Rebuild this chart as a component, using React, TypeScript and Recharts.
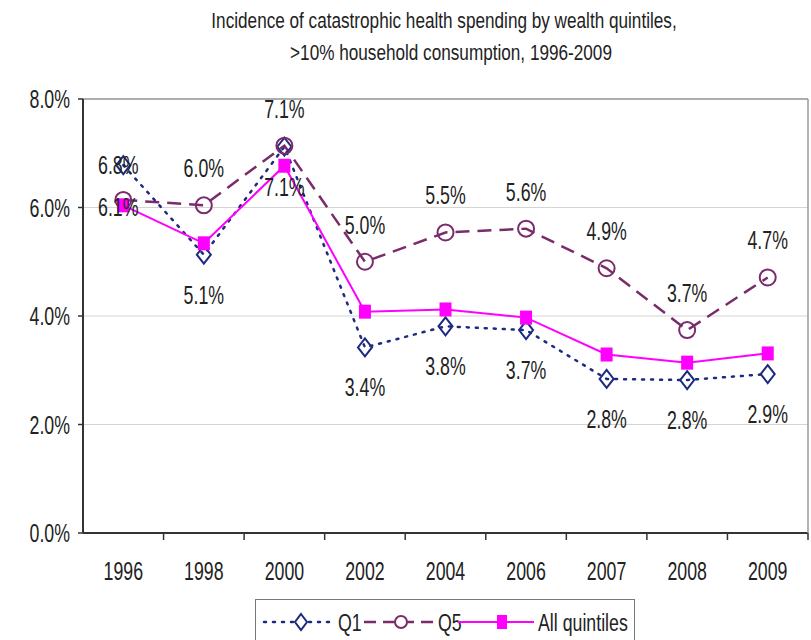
import { CartesianGrid, LabelList, Line, LineChart, ReferenceLine, XAxis, YAxis } from "recharts"

const years = ["1996", "1998", "2000", "2002", "2004", "2006", "2007", "2008", "2009"]
const q1 = [6.78, 5.13, 7.12, 3.42, 3.81, 3.74, 2.84, 2.82, 2.93]
const q5 = [6.14, 6.04, 7.14, 5.0, 5.54, 5.61, 4.88, 3.74, 4.71]
const allQuintiles = [6.04, 5.34, 6.77, 4.08, 4.12, 3.97, 3.29, 3.14, 3.31]
const yTicks = [0, 2, 4, 6, 8]

const data = years.map((year, i) => ({ year, q1: q1[i], q5: q5[i], all: allQuintiles[i] }))

// no narrow Arial installed, so squeeze Liberation Sans horizontally
const FONT = "'Liberation Sans', Arial, sans-serif"
const NAVY = "#1c2a80"
const PURPLE = "#7a2b6c"
const MAGENTA = "#ff00ff"

const W = 811
const H = 640
const LEFT = 83
const RIGHT = 3
const HALF_STEP = (W - LEFT - RIGHT) / years.length / 2

const NarrowText = ({ x, y, size = 25, squeeze = 0.71, anchor = "middle", children }: any) => (
  <text
    transform={`translate(${x},${y}) scale(${squeeze},1)`}
    textAnchor={anchor}
    fontFamily={FONT}
    fontSize={size}
    fill="#222"
  >
    {children}
  </text>
)

const Diamond = (props: any) => {
  const { cx, cy } = props
  if (cx == null || cy == null) return null
  return (
    <path
      d={`M${cx},${cy - 9} L${cx + 7},${cy} L${cx},${cy + 9} L${cx - 7},${cy} Z`}
      fill="none"
      stroke={NAVY}
      strokeWidth={2}
    />
  )
}

const Circle = (props: any) => {
  const { cx, cy } = props
  if (cx == null || cy == null) return null
  return <circle cx={cx} cy={cy} r={8} fill="none" stroke={PURPLE} strokeWidth={2} />
}

const Square = (props: any) => {
  const { cx, cy } = props
  if (cx == null || cy == null) return null
  return <rect x={cx - 6} y={cy - 7} width={12} height={14} fill={MAGENTA} />
}

const makeLabel = (dy: number, firstDy: number) => (props: any) => {
  const { x, y, value, index } = props
  const first = index === 0
  return (
    <NarrowText x={x + (first ? -5 : 0)} y={y + (first ? firstDy : dy) + 9}>
      {`${Number(value).toFixed(1)}%`}
    </NarrowText>
  )
}

const YearTick = (props: any) => {
  const { x, y, payload, index } = props
  const last = index === years.length - 1
  return (
    <g>
      {index > 0 && <line x1={x - HALF_STEP} x2={x - HALF_STEP} y1={y} y2={y + 7} stroke="#333" strokeWidth={1.5} />}
      {last && <line x1={x + HALF_STEP} x2={x + HALF_STEP} y1={y} y2={y + 7} stroke="#333" strokeWidth={1.5} />}
      <NarrowText x={x} y={y + 47}>
        {payload.value}
      </NarrowText>
    </g>
  )
}

const PercentTick = (props: any) => {
  const { x, y, payload } = props
  return (
    <NarrowText x={x} y={y + 9} anchor="end">
      {`${Number(payload.value).toFixed(1)}%`}
    </NarrowText>
  )
}

export default function App() {
  return (
    <div style={{ position: "relative", width: W, height: H, background: "#fff" }}>
      <style>{`body{margin:0}`}</style>
      <svg width={W} height={90} style={{ position: "absolute", left: 0, top: 0 }}>
        <NarrowText x={444} y={28} size={22} squeeze={0.78}>
          Incidence of catastrophic health spending by wealth quintiles,
        </NarrowText>
        <NarrowText x={451} y={60} size={22} squeeze={0.78}>
          &gt;10% household consumption, 1996-2009
        </NarrowText>
      </svg>
      <LineChart width={W} height={H} data={data} margin={{ top: 99, right: 0, bottom: 47, left: 0 }}>
        <CartesianGrid vertical={false} stroke="#d4d4d4" strokeWidth={1.2} />
        <XAxis
          dataKey="year"
          padding={{ left: HALF_STEP, right: HALF_STEP }}
          height={60}
          tickSize={0}
          tickMargin={0}
          tick={<YearTick />}
          axisLine={{ stroke: "#333", strokeWidth: 2 }}
          interval={0}
        />
        <YAxis
          domain={[0, 8]}
          ticks={yTicks}
          width={LEFT}
          tick={<PercentTick />}
          tickLine={{ stroke: "#333", strokeWidth: 1.5 }}
          tickSize={5}
          tickMargin={8}
          axisLine={{ stroke: "#333", strokeWidth: 2 }}
        />
        <YAxis
          yAxisId="r"
          orientation="right"
          domain={[0, 8]}
          width={RIGHT}
          tick={false}
          tickLine={false}
          axisLine={{ stroke: "#999", strokeWidth: 1.5 }}
        />
        <ReferenceLine y={8} stroke="#999" strokeWidth={1.5} />
        <Line
          dataKey="q1"
          name="Q1"
          stroke={NAVY}
          strokeWidth={2.5}
          strokeDasharray="2 7"
          strokeLinecap="round"
          dot={<Diamond />}
          isAnimationActive={false}
        >
          <LabelList dataKey="q1" content={makeLabel(40, 0)} />
        </Line>
        <Line
          dataKey="q5"
          name="Q5"
          stroke={PURPLE}
          strokeWidth={2.5}
          strokeDasharray="14 8"
          dot={<Circle />}
          isAnimationActive={false}
        >
          <LabelList dataKey="q5" content={makeLabel(-37, 7)} />
        </Line>
        <Line
          dataKey="all"
          name="All quintiles"
          stroke={MAGENTA}
          strokeWidth={2}
          dot={<Square />}
          isAnimationActive={false}
        />
      </LineChart>
      <div
        style={{
          position: "absolute",
          left: 255,
          top: 599,
          width: 380,
          height: 44,
          boxSizing: "border-box",
          border: "1.5px solid #777",
          background: "#fff",
        }}
      >
        <svg width={378} height={42} style={{ display: "block" }}>
          <line x1={8} x2={77} y1={22} y2={22} stroke={NAVY} strokeWidth={2.5} strokeDasharray="2 7" strokeLinecap="round" />
          <path d="M45,14 L51,22 L45,30 L39,22 Z" fill="#fff" stroke={NAVY} strokeWidth={2} />
          <NarrowText x={82} y={31} size={24} squeeze={0.74} anchor="start">Q1</NarrowText>
          <line x1={108} x2={178} y1={22} y2={22} stroke={PURPLE} strokeWidth={2.5} strokeDasharray="12 7" />
          <circle cx={145} cy={22} r={6} fill="#fff" stroke={PURPLE} strokeWidth={2} />
          <NarrowText x={182} y={31} size={24} squeeze={0.74} anchor="start">Q5</NarrowText>
          <line x1={202} x2={278} y1={22} y2={22} stroke={MAGENTA} strokeWidth={2} />
          <rect x={241} y={15} width={10} height={14} fill={MAGENTA} />
          <NarrowText x={282} y={31} size={24} squeeze={0.74} anchor="start">All quintiles</NarrowText>
        </svg>
      </div>
    </div>
  )
}
